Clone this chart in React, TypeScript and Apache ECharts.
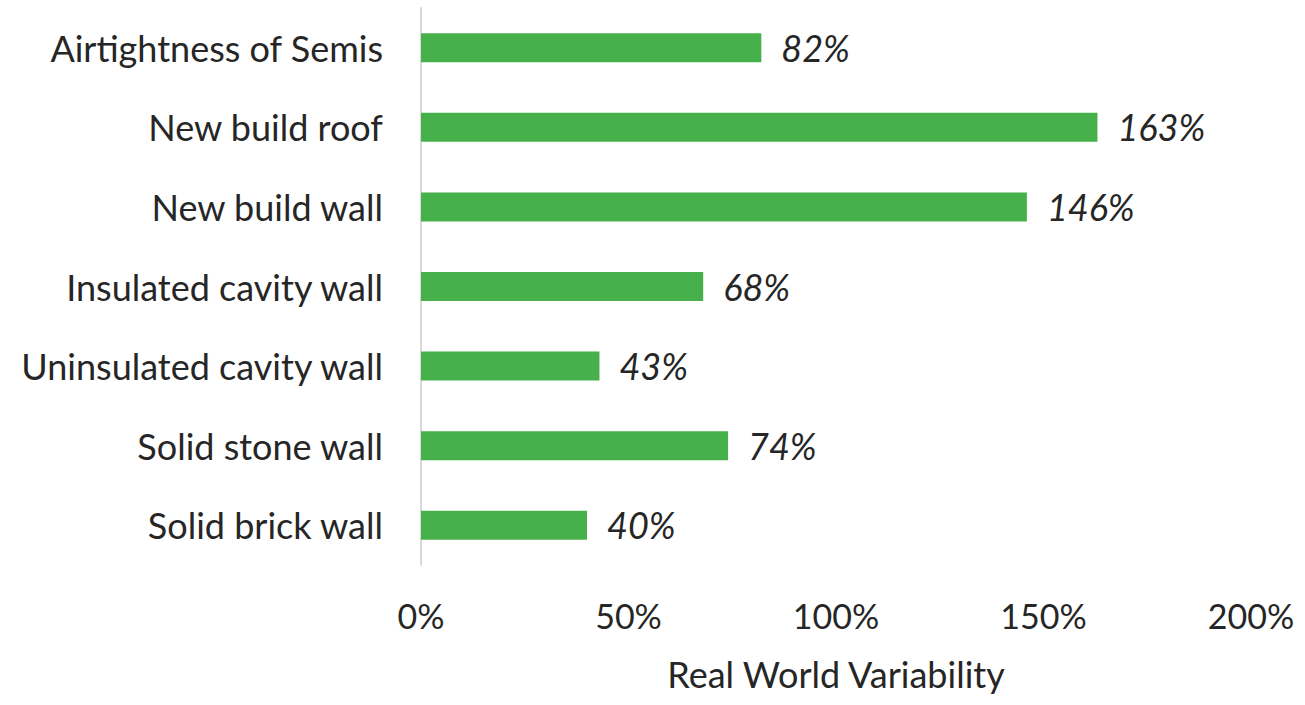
import React, { useEffect, useRef } from "react";
import * as echarts from "echarts";

const categories = [
  "Airtightness of Semis",
  "New build roof",
  "New build wall",
  "Insulated cavity wall",
  "Uninsulated cavity wall",
  "Solid stone wall",
  "Solid brick wall",
];
const values = [82, 163, 146, 68, 43, 74, 40];
const xTicks = [0, 50, 100, 150, 200];
const axisName = "Real World Variability";

const FONT = "Lato, 'Open Sans', sans-serif";

export default function App() {
  const ref = useRef<HTMLDivElement>(null);
  useEffect(() => {
    if (!ref.current) return;
    const chart = echarts.init(ref.current, undefined, { renderer: "svg" });
    chart.setOption({
      animation: false,
      grid: {
        left: 421,
        right: 54,
        top: 8,
        bottom: 140,
        containLabel: false,
        outerBoundsMode: "none",
      },
      xAxis: {
        type: "value",
        min: xTicks[0],
        max: xTicks[xTicks.length - 1],
        interval: 50,
        axisLine: { show: false },
        axisTick: { show: false },
        splitLine: { show: false },
        axisLabel: {
          formatter: (v: number) => v + "%",
          fontFamily: FONT,
          fontSize: 34,
          color: "#262626",
          margin: 33,
        },
        name: axisName,
        nameLocation: "middle",
        nameGap: 91,
        nameTextStyle: { fontFamily: FONT, fontSize: 36, color: "#262626" },
      },
      yAxis: {
        type: "category",
        data: categories,
        inverse: true,
        axisLine: { show: true, lineStyle: { color: "#d9d9d9", width: 2 } },
        axisTick: { show: false },
        axisLabel: {
          fontFamily: FONT,
          fontSize: 36,
          color: "#262626",
          margin: 38,
        },
      },
      series: [
        {
          type: "bar",
          data: values,
          barWidth: 29,
          itemStyle: { color: "#46b04a" },
          label: {
            show: true,
            position: "right",
            distance: 20,
            formatter: (p: any) => p.value + "%",
            fontFamily: FONT,
            fontStyle: "italic",
            fontSize: 36,
            color: "#262626",
          },
        },
      ],
    });
    return () => chart.dispose();
  }, []);
  return <div ref={ref} style={{ width: 1305, height: 705, position: "absolute", left: 0, top: 0, background: "#fff" }} />;
}
